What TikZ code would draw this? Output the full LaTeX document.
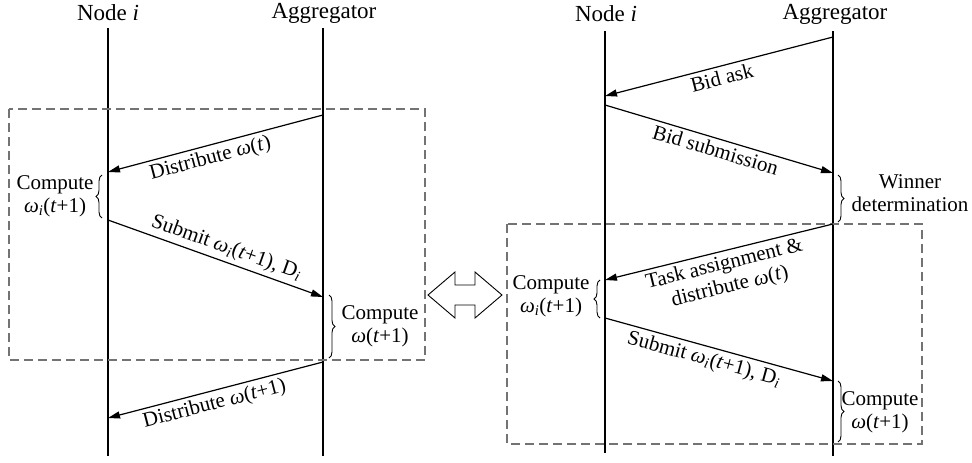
\documentclass[tikz,border=0pt]{standalone}
\usepackage{fontspec}
\setmainfont{Liberation Serif}
\usetikzlibrary{arrows.meta,decorations.pathreplacing}

\newcommand{\wt}[1]{\textit{ω}(\textit{t}#1)}
\newcommand{\wit}{\textit{ω}\textsubscript{\textit{i}}(\textit{t}+1)}

\begin{document}
\begin{tikzpicture}[x=1pt,y=-1pt,
  lifeline/.style={line width=1.2pt},
  msg/.style={line width=1.2pt,-{Triangle[length=12pt,width=7pt]}},
  phase/.style={draw=black!55, line width=1.2pt, dash pattern=on 9pt off 5pt},
  curly/.style={line width=0.9pt, decorate, decoration={brace, amplitude=6pt}},
  head/.style={font=\fontsize{23}{25}\selectfont, inner sep=0pt},
  lbl/.style={font=\fontsize{21}{23}\selectfont, inner sep=3.5pt, align=center},
]
\useasboundingbox (0,0) rectangle (972,463);

% ---------------- left: plain federated round ----------------
\node[head] (nl) at (108,13) {Node \textit{i}};
\node[head] (al) at (324,13) {Aggregator};
\coordinate (nlt) at (108,28);  \coordinate (nlb) at (108,456);
\coordinate (alt) at (323,28);  \coordinate (alb) at (323,456);
\draw[lifeline] (nlt) -- (nlb);
\draw[lifeline] (alt) -- (alb);

\draw[phase] (9,109) rectangle (425,360);

\coordinate (la1) at (323,115);  \coordinate (ln1) at (108,172);
\coordinate (ln2) at (108,220);  \coordinate (la2) at (323,297);
\coordinate (la3) at (323,362);  \coordinate (ln3) at (108,418);

\draw[msg] (la1) -- node[lbl, pos=0.54, rotate=14.85, anchor=north] (tl1) {Distribute \wt{}} (ln1);
\draw[msg] (ln2) -- node[lbl, pos=0.53, rotate=-19.7, anchor=south] (tl2) {Submit \wit, D\textsubscript{\textit{i}}} (la2);
\draw[msg] (la3) -- node[lbl, pos=0.52, rotate=14.6, anchor=north] (tl3) {Distribute \wt{+1}} (ln3);

\draw[curly] (102,218) -- (102,175);
\node[lbl] (cl1) at (55,196) {Compute\\\wit};
\draw[curly] (329,295) -- (329,358);
\node[lbl] (cl2) at (380,326) {Compute\\\wt{+1}};

% ---------------- hollow double arrow between the two schemes ----------------
\draw[line width=0.9pt, fill=white]
  (428,295) -- (455,272) -- (455,285) -- (475,285) -- (475,272) -- (502,295)
  -- (475,318) -- (475,305) -- (455,305) -- (455,318) -- cycle;

% ---------------- right: auction-based round ----------------
\node[head] (nr) at (606,14) {Node \textit{i}};
\node[head] (ar) at (835,14) {Aggregator};
\coordinate (nrt) at (605,31);  \coordinate (nrb) at (605,453);
\coordinate (art) at (833,31);  \coordinate (arb) at (833,456);
\draw[lifeline] (nrt) -- (nrb);
\draw[lifeline] (art) -- (arb);

\draw[phase] (507,224) rectangle (922,444);

\coordinate (ra1) at (833,37);   \coordinate (rn1) at (605,96);
\coordinate (rn2) at (605,105);  \coordinate (ra2) at (833,173);
\coordinate (ra3) at (833,224);  \coordinate (rn3) at (605,280);
\coordinate (rn4) at (605,318);  \coordinate (ra4) at (833,381);

\draw[msg] (ra1) -- node[lbl, pos=0.5, rotate=14.5, anchor=north] (tr1) {Bid ask} (rn1);
\draw[msg] (rn2) -- node[lbl, pos=0.5, rotate=-16.6, anchor=north] (tr2) {Bid submission} (ra2);
\draw[msg] (ra3) -- node[lbl, pos=0.49, rotate=13.8, anchor=north] (tr3) {Task assignment \&\\distribute \wt{}} (rn3);
\draw[msg] (rn4) -- node[lbl, pos=0.45, rotate=-15.4, anchor=north] (tr4) {Submit \wit, D\textsubscript{\textit{i}}} (ra4);

\draw[curly] (838,175) -- (838,222);
\node[lbl] (cr1) at (910,193) {Winner\\determination};
\draw[curly] (600,318) -- (600,280);
\node[lbl] (cr2) at (551,296) {Compute\\\wit};
\draw[curly] (838,381) -- (838,442);
\node[lbl] (cr3) at (880,412) {Compute\\\wt{+1}};
\end{tikzpicture}
\end{document}
